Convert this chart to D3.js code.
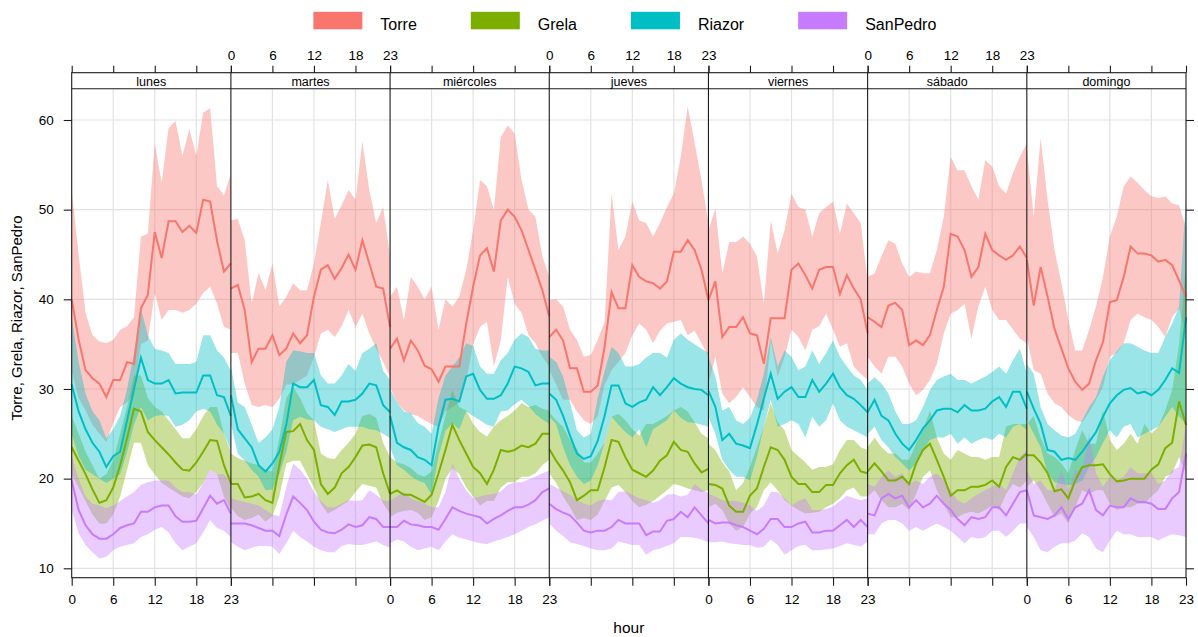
<!DOCTYPE html>
<html>
<head>
<meta charset="utf-8">
<script src="https://cdn.jsdelivr.net/npm/d3@7"></script>
<style>
  body { margin: 0; background: #fff; }
  text { font-family: "Liberation Sans", Arial, sans-serif; fill: #000; }
</style>
</head>
<body>
<svg id="chart" width="1198" height="637"></svg>
<script>
const days = ["lunes", "martes", "miércoles", "jueves", "viernes", "sábado", "domingo"];
const seriesNames = ["Torre", "Grela", "Riazor", "SanPedro"];
const seriesColors = ["#F8766D", "#7CAE00", "#00BFC4", "#C77CFF"];
const hourTicks = [0, 6, 12, 18, 23];
const hourGrid = [6, 12, 18];
const yTicks = [10, 20, 30, 40, 50, 60];

// one row of 24 hourly values per day
const torreMean = [
  [40,35.5,32.1,31.2,30.6,29.1,31,31,33,32.8,39,40.5,47.5,44.6,48.7,48.7,47.5,48.2,47.4,51.1,50.9,46.5,43.1,44],
  [41.2,41.6,38.8,33.0,34.5,34.5,36.0,33.8,34.5,36.2,35.1,36.0,40.3,43.3,43.8,42.3,43.5,45.0,43.3,46.6,44.0,41.4,41.2,36.9],
  [34.5,35.6,33.2,35.4,34.3,32.6,32.2,30.8,32.5,32.5,32.5,37.3,41.4,44.9,45.7,43.1,48.8,50.0,49.2,47.7,45.5,43.3,41.0,38.1],
  [35.8,36.6,35.4,32.3,32.3,29.7,29.7,30.4,34.7,40.8,39.0,39.0,43.8,42.5,42.0,41.8,41.2,42.0,45.3,45.3,46.6,45.5,43.3,39.9],
  [39.9,42.0,35.8,36.9,36.9,38.0,36.2,36.0,32.8,37.9,37.9,37.9,43.3,44.0,42.7,41.2,43.3,43.6,43.6,40.6,42.7,41.2,40.0,36.2],
  [38.0,37.5,36.9,39.3,39.6,38.8,34.9,35.4,34.9,36.0,38.8,41.4,47.3,47.0,45.5,42.5,43.6,47.3,45.5,44.9,44.4,44.9,45.9,44.6],
  [44.4,39.3,43.6,40.3,36.7,34.5,32.3,30.8,29.9,30.6,33.2,35.2,39.7,39.9,42.5,45.9,45.1,45.1,44.9,44.2,44.4,43.8,42.1,40.3]
];
const torreHi = [
  [52.2,45,38.5,36,35.3,35.1,35.5,36.6,37,38,47,47.3,57.4,53,59.1,59.9,56,59,56,60.8,61.3,52.6,51.6,54],
  [48.8,49,46.6,39.5,42.9,41,44,39.2,40.3,41.8,41,41,44,48.5,53.3,49,50.5,52.2,51.1,57.6,52.2,48.5,50.3,44.8],
  [40.3,41.4,37.7,42.5,41.4,40,41.4,36.6,40,39.2,40.3,43.3,47.7,53.3,52.6,50.0,58.1,59.4,58.5,53.3,50,49.2,44.8,42.5],
  [39.9,40,39.2,36.6,35.5,33.6,33.8,35.5,37.5,51.8,45.5,47,50.9,48.8,48.5,47.0,48.5,50.3,51.8,55.9,61.5,57.5,53.3,48.5],
  [47.7,50.1,42.9,46.4,46.4,47.0,46.2,44.8,39.5,48.8,45.1,47.7,51.8,50.3,50.0,47.0,49.6,50.3,50.9,47.3,50.7,49.6,48.5,42.1],
  [42.5,42.9,44.8,46.6,46.2,44.0,42.5,43.1,42.9,42.9,45.5,49.2,55.9,54.4,54.4,52.6,51.1,55.5,54.8,52.6,51.8,54.1,55.9,57.4],
  [57.0,49.2,58.0,51.1,45.5,41.8,37.7,34.3,34.3,36.6,39.2,42.5,47.0,49.2,52.6,53.7,53.0,52.2,51.5,51.3,51.5,50.7,50.5,48.0]
];
const torreLo = [
  [32,29,27.6,26,25,24.1,26.2,28,28.5,29.5,35,35.4,40.7,37.7,38.8,38.8,38.5,38.8,39.5,40.7,41.4,39.5,36.9,36.6],
  [34,34,30.6,28.2,28,28.2,28,28.9,30.5,30.5,31,31.5,33.6,36.2,36.6,35.8,37,38.8,36.9,38.4,36.2,34.5,33,31.4],
  [30.2,28.5,27.6,27.2,27,26.5,26.1,25.8,27.5,28,28.5,31,35,36.9,37.5,32.5,35.4,42.5,39.5,38.5,36,35.1,33.6,32.5],
  [32.1,30.5,28.8,28.8,27.5,26.5,26.1,27,30.5,32.1,33,34,36,37.3,36.6,35.1,36.5,37.3,37.5,37.7,36,36.5,35.1,33.6],
  [30.6,33.6,29.5,28.4,29.1,30.2,29.1,28.0,27.6,35.4,31.4,33.6,36.6,35.8,34.3,36.6,37.0,38.4,36.6,34.7,35.1,32.5,31.7,31.0],
  [33.6,32.5,31.7,33.6,33.6,32.5,30.6,29.3,29.9,31.0,32.8,36.2,38.4,38.8,39.5,35.6,39.2,41.4,38.8,37.7,37.7,36.6,35.6,35.1],
  [35.8,32.1,31.7,29.5,28.4,28.0,27.1,26.5,26.3,27.4,28.8,30.2,33.6,34.0,35.1,37.7,38.4,38.0,37.7,36.9,35.8,38.0,39.0,36.0]
];

const grelaMean = [
  [23.5,22,20.5,18.8,17.3,17.6,19,21.5,24.5,27.8,27.5,25.2,24.3,23.5,22.7,21.8,21,20.9,21.8,23,24.3,24.2,21.5,19.5],
  [19.4,19.4,17.9,18.0,18.3,17.6,17.3,21.5,25.2,25.3,26.1,24.3,23.2,19.4,18.3,19.0,20.6,21.3,22.4,23.7,23.8,23.5,20.6,18.3],
  [18.3,18.7,18.2,18.2,17.8,17.4,18.2,20.6,23.2,26.0,24.3,22.8,21.3,20.6,19.4,21.0,23.2,23.0,23.2,23.7,23.5,23.9,25.0,25.0],
  [23.3,22.0,20.9,19.6,17.6,18.1,18.7,18.7,21.3,24.3,24.1,22.4,21.0,20.6,20.2,20.9,22.0,22.6,24.1,23.2,23.0,21.7,20.7,21.1],
  [19.4,19.3,18.9,17.0,16.3,16.3,18.1,18.9,21.3,23.5,23.2,22.1,20.2,19.4,19.4,18.5,18.5,19.3,19.3,20.6,21.5,22.1,20.8,20.6],
  [20.8,21.7,20.8,19.8,19.8,20.2,19.4,21.7,23.2,23.9,22.1,20.2,18.1,18.7,18.7,19.1,19.1,19.3,19.8,19.1,21.3,22.4,22.1,22.8],
  [22.6,22.6,21.8,20.6,18.6,18.8,17.8,19.8,21.3,21.5,21.5,21.6,20.5,19.7,19.8,20.0,20.0,20.0,21.0,21.6,23.4,24.0,28.6,26.0]
];
const grelaHi = [
  [27,25,23,21.5,20,20.5,22,25,28,31.5,31.5,29,28,27.5,26.5,25.5,24.5,24.5,25.5,27,28,28,25,23],
  [22.8,22.3,22,21.7,21.5,21.0,20.8,24.5,29,30.2,29,27.3,26.5,22.8,22.3,22.2,23.2,24,25,27,27.2,26.8,24,22.4],
  [22.4,21.8,21.6,21.2,20.5,20.2,20.8,24.0,27.0,29.9,28.0,27.6,26.1,25.2,24.7,25.8,26.5,27,27.6,28.4,28,28.2,27.8,27.6],
  [27.4,26.5,25.8,24.3,23.3,21.8,21.8,22.8,24,26.9,27.2,26.5,25.5,24.8,26.1,26.1,26.5,27,27.6,28.0,27.5,26.3,25.0,24.5],
  [23.9,23.2,21.8,20.8,18.7,19.5,21.3,23.5,25.8,28.4,26.3,25.4,23.2,22.5,21.8,21.0,21.3,21.3,21.6,23.2,24.3,24.3,23.5,23.2],
  [23.5,24.6,23.5,22.8,22.8,22.1,22.1,23.9,25.4,27.6,24.6,22.8,22.1,23.2,22.8,22.4,22.4,22.1,22.4,22.4,25.8,26.1,26.1,26.1],
  [26.1,27.0,24.6,22.8,22.4,21.7,20.6,23.2,25.4,23.9,23.9,27.6,24.3,23.2,23.9,25.0,23.9,26.1,25.0,25.8,27.6,29.9,35.0,44.0]
];
const grelaLo = [
  [20.5,19,17.5,16,15,15,16,18,21,24,24,21.5,20.5,19.5,19,18.5,18,17.8,18.5,19.5,21,20.5,18,16.5],
  [16.8,15.8,15.4,15.6,16,15.2,15.8,18,21.7,22,22,20.5,19,17.2,16.1,16.5,17,17.5,18.5,19.4,19.2,19,17.2,16.1],
  [15.7,16.2,16.4,16.5,16.2,15.4,15.7,17.5,20.0,21.2,20.5,19.0,18.0,17.0,17.5,17.5,19.0,19.6,19.6,20.2,20.2,20.6,21.5,22.1],
  [20.6,19.5,18,16.8,15.4,15.6,15.4,16.0,17.5,19.0,19.3,18.5,17.5,16.8,17.1,17.5,18.1,18.7,19.4,19.2,18.9,18.7,18.5,18.7],
  [16.8,17.2,16.5,15.0,14.2,14.6,16.1,16.8,18.7,19.6,18.7,17.6,17.0,16.5,16.1,16.2,16.3,16.8,17.2,17.8,18.7,19.0,18.0,18.0],
  [18.0,18.7,17.6,16.8,16.8,17.2,16.5,18.3,20.2,20.9,18.7,17.2,15.7,15.7,16.1,16.3,16.1,16.5,17.0,16.5,18.3,19.4,19.0,19.8],
  [19.1,19.8,18.7,17.2,15.7,16.1,15.0,16.8,18.7,18.3,18.7,18.7,17.2,16.5,16.8,16.8,17.2,17.2,18.0,18.7,20.2,20.6,22.4,20.6]
];

const riazorMean = [
  [30.5,27.5,25.5,24,23,21.3,22.5,23,26.5,30,33.5,31,30.6,30.6,31,29.5,29.6,29.6,29.6,31.5,31.5,29.3,29.1,27],
  [29.3,25.5,24.5,23.5,21.5,20.8,21.7,23.0,26,30.6,30.2,30.2,31.0,28.2,28.0,27.1,28.6,28.6,28.8,29.5,30.6,30.4,28.2,27.4],
  [27.0,24.0,23.5,23.2,22.4,22.1,21.5,25.8,28.8,28.9,28.6,31.4,31.7,29.9,28.9,28.9,29.3,30.6,32.5,32.3,31.9,30.4,30.6,30.6],
  [29.5,28.8,27.0,24.8,22.8,22.2,22.5,24.2,27.0,30.4,30.4,28.4,28.0,28.5,28.8,30.2,29.3,30.2,31.2,30.6,30.2,30.0,29.9,29.3],
  [29.8,28.0,24.3,25.0,23.9,23.7,23.4,26.0,28.9,31.7,28.9,29.7,30.2,29.1,29.1,31.0,29.7,30.6,31.7,30.2,29.3,28.9,28.2,27.4],
  [27.4,28.8,27.0,26.5,25.0,23.9,23.2,24.3,25.6,26.5,27.6,27.8,27.8,27.4,28.2,27.6,27.6,27.8,28.6,29.1,28.0,29.7,29.7,27.8],
  [29.7,27.8,26.1,23.2,23.0,22.1,22.3,22.1,23.0,24.1,25.2,26.9,28.4,29.3,29.9,30.1,29.5,29.7,29.3,29.9,31.0,32.3,31.8,38.0]
];
const riazorHi = [
  [38,33,29.5,27.5,26.5,24.5,25.5,27,30,34,39,36,34.5,34.3,34,32.8,32.8,32.8,33,36,36,34.3,33.5,32],
  [32.5,28.5,28,26,24,24.6,25.5,28,33,34.3,34.2,34,34,31.5,30.6,30.6,31.5,32.8,32,34,34.5,35.1,32,31],
  [30,28.5,27.5,27.3,26.2,25.8,25,29,31.5,32.5,33.5,35.1,34.8,32.5,31.7,31.7,33.2,34,35.5,36.2,35.8,34.5,34.3,34.3],
  [33.6,33,31.4,28.5,25.4,24.6,25,29,32,34.7,34,32.5,32.5,32.8,33.5,34,34,33.5,35.5,36.2,35.5,35,34.5,34],
  [33.6,31.4,27.6,28.0,26.5,26.1,26.8,28.8,31.7,35.8,32.5,34.3,33.6,32.1,32.5,34.3,32.8,34.0,35.4,33.6,32.5,31.5,31.0,29.9],
  [30.6,31.3,30.6,29.5,27.5,26.1,26.1,26.5,28.0,29.9,31.0,31.4,31.7,31.0,31.0,30.6,31.0,31.4,31.9,32.5,31.7,33.2,34.5,31.7],
  [32.8,31.7,28.0,26.1,25.4,24.8,24.6,25.0,26.5,28.0,29.1,31.4,33.2,34.2,35.1,35.1,34.7,34.3,34.0,34.0,35.8,37.3,39.2,51.3]
];
const riazorLo = [
  [25,22.5,21,20.5,20,19.5,20,20.5,23,26,28,26.5,27,27.1,27,25.8,26,26.5,27.5,27.8,27.5,26,25,23.2],
  [26.1,22.8,22,21,20.2,18.7,18.8,20.5,23,26.5,26.9,26.6,26.5,25.8,25.5,25.2,25.5,25.8,25.8,25.8,25.5,25.4,25,24.5],
  [23.5,21.5,21,20.3,19.8,19.5,18.2,22.5,25.3,26.2,25.5,27.5,27,26.5,26,25.8,27.5,27.6,28.3,28.8,28.1,27.2,26.6,26.1],
  [26.9,26.1,23.5,21.5,20.2,19.4,19.8,21.5,24,26.9,26,25.2,24.6,25.5,23.5,25.5,26,26.5,27.6,26.8,26.3,26.2,26,25.8],
  [26.9,25.0,22.1,21.0,20.2,20.2,19.8,22.4,25.8,28.8,25.8,26.1,26.5,26.1,24.6,26.9,25.8,26.5,28.4,26.5,25.8,25.4,25.0,24.6],
  [25.0,25.8,24.3,23.5,22.4,21.7,20.9,21.7,23.2,24.3,24.6,24.6,25.0,23.9,24.6,23.9,24.3,24.6,24.3,25.0,24.6,25.8,26.1,25.4],
  [26.5,25.0,23.5,20.6,19.6,19.4,19.3,19.4,19.8,21.3,22.4,24.0,25.4,24.6,25.8,26.1,24.6,25.0,25.4,25.8,26.9,28.0,26.9,26.1]
];

const sanPedroMean = [
  [19.8,16.5,14.8,13.8,13.3,13.3,13.8,14.5,14.8,15.0,16.3,16.3,16.8,17.0,17.0,15.8,15.2,15.2,15.3,16.7,18.1,17.2,17.6,16.1],
  [15.0,15.0,15.0,14.8,14.5,14.2,14.2,13.6,16.0,18.0,17.3,16.5,15.2,14.3,14.0,13.9,14.3,14.9,14.6,14.8,15.7,15.5,14.6,14.6],
  [14.6,14.6,15.3,14.9,14.8,14.6,14.6,14.3,15.5,16.8,16.4,16.1,15.9,15.7,15.0,15.5,15.9,16.4,16.8,16.8,17.1,17.6,18.5,18.9],
  [17.2,16.6,16.2,15.9,15.1,14.2,14.0,14.2,14.2,14.6,15.4,15.0,15.0,15.0,13.7,14.1,14.1,15.3,15.5,16.3,15.7,16.8,15.9,15.0],
  [15.4,15.0,15.1,15.1,14.8,14.6,14.2,13.8,14.4,15.5,15.5,14.6,14.6,15.0,15.2,14.0,14.0,14.2,14.2,14.8,15.4,14.6,15.4,14.6],
  [16.1,15.9,17.8,18.3,17.8,18.1,16.8,17.6,16.8,17.2,18.1,17.2,16.5,15.5,14.8,15.7,15.5,15.7,16.8,16.8,15.9,17.2,18.5,18.7],
  [18.7,15.9,15.7,15.5,15.9,16.8,15.5,16.8,17.2,18.7,16.5,15.9,17.0,16.8,16.8,17.8,17.4,17.4,17.2,16.6,16.6,17.8,18.5,22.8]
];
const sanPedroHi = [
  [22.5,20,18,17.2,17,16.7,17,17.5,18,18.5,19.3,19.6,19.8,19.8,19.8,19,18.5,18.5,18.2,19.5,21,20.5,20.5,19.5],
  [17.8,17.6,17.4,17.2,17,16.5,16,15.8,19,21.7,21,20,18.5,17.5,16.8,16.8,17.2,17.6,17.5,17.6,18.7,18.2,17.6,17.5],
  [17.6,18.0,18.5,17.8,17.5,17.2,16.8,16.8,18.5,21.7,20,18.7,17.8,18,18.2,18.3,18.6,19.3,19.6,19.6,19.9,20.2,20.6,20.9],
  [19.4,19.0,18.6,18.2,17.6,17.2,17.0,17.5,17.7,17.6,18.5,18.6,18.2,17.8,17.6,17.3,17.6,18.2,18.3,18.0,18.2,19.4,18.8,18.4],
  [18.3,18.0,17.6,17.5,17.5,17.3,17.0,16.4,17.0,18.5,18.5,17.8,17.0,17.5,17.8,16.5,16.5,16.6,16.9,17.5,18.1,17.8,17.6,17.8],
  [19.4,19.1,20.2,20.9,20.2,20.6,19.4,19.8,19.4,20.2,20.6,19.8,18.7,17.6,17.2,17.8,18.3,18.7,19.1,19.4,18.7,20.6,22.4,23.2],
  [20.9,19.4,19.8,18.7,18.7,20.9,18.7,20.9,20.9,25.0,20.6,19.1,20.2,19.8,20.2,21.3,20.6,20.6,20.6,19.4,19.8,20.9,21.3,26.0]
];
const sanPedroLo = [
  [16.5,13.9,12.6,11.8,11.1,11.3,12,12.4,12.6,12.8,13.5,13.8,14.3,14.6,14,12.8,12.0,12.4,12.8,14.0,15.4,14.5,14.2,13.5],
  [12.9,12.4,12.0,12.3,12.5,12.5,12.4,11.6,12.8,14.2,13.5,13,12.4,12.0,11.8,11.8,12.5,12.7,12.6,12.6,12.8,13,12.6,12.3],
  [12.8,13.2,13.0,12.4,12.0,12.2,12.4,12.0,13.0,13.8,13.4,13.2,13.0,12.8,12.7,13.0,13.2,13.5,13.8,14.2,14.6,14.9,15.3,15.7],
  [15.0,14.2,13.6,12.9,12.7,12.5,12.2,12.0,12.0,12.2,13.0,12.8,12.6,12.6,11.5,12.0,12.2,12.5,12.8,13.5,13.5,13.4,13.2,12.9],
  [12.9,12.9,13.0,12.8,12.7,12.6,12.6,12.3,12.4,13.2,12.6,11.5,12.0,12.5,12.6,12.0,12.0,12.1,12.2,12.5,12.8,12.6,12.4,13.0],
  [13.8,13.8,15.0,15.4,15.4,15.0,14.2,14.6,14.2,14.6,15.0,14.6,14.2,13.5,12.8,13.5,13.3,13.5,14.2,14.2,13.5,14.2,15.0,15.0],
  [14.6,13.5,12.0,11.8,12.4,12.8,12.8,13.1,13.9,13.5,12.2,11.8,13.1,14.2,13.8,13.8,13.5,13.5,13.5,13.1,13.5,13.8,13.7,13.5]
];

const seriesTable = [
  { mean: torreMean, lo: torreLo, hi: torreHi },
  { mean: grelaMean, lo: grelaLo, hi: grelaHi },
  { mean: riazorMean, lo: riazorLo, hi: riazorHi },
  { mean: sanPedroMean, lo: sanPedroLo, hi: sanPedroHi }
].map((s, i) => ({ ...s, name: seriesNames[i], color: seriesColors[i] }));

const svg = d3.select("#chart");

const plotL = 71.7, plotR = 1186, plotT = 88.7, plotB = 577.7, stripT = 72.7;
const tickFont = "13.5px";

const panelScale = d3.scaleBand().domain(days).range([plotL, plotR]);
const pw = panelScale.bandwidth();
const y = d3.scaleLinear().domain([10, 60]).range([568.3, 120]);
const xFor = day => d3.scaleLinear().domain([0, 23]).range([panelScale(day), panelScale(day) + pw]);

// grid
const gridG = svg.append("g").attr("stroke", "#e2e2e2").attr("stroke-width", 1.2);
gridG.selectAll("line.h")
  .data(yTicks)
  .join("line")
  .attr("class", "h")
  .attr("x1", plotL).attr("x2", plotR)
  .attr("y1", d => y(d)).attr("y2", d => y(d));

days.forEach(day => {
  const x = xFor(day);
  gridG.append("g").selectAll("line")
    .data(hourGrid)
    .join("line")
    .attr("x1", d => x(d)).attr("x2", d => x(d))
    .attr("y1", plotT).attr("y2", plotB);
});

// bands, then lines
const bandsG = svg.append("g");
const linesG = svg.append("g");

days.forEach((day, di) => {
  const x = xFor(day);
  seriesTable.forEach(s => {
    const area = d3.area()
      .x((d, h) => x(h))
      .y0((d, h) => y(s.lo[di][h]))
      .y1((d, h) => y(s.hi[di][h]));
    bandsG.append("path")
      .datum(s.mean[di])
      .attr("d", area)
      .attr("fill", s.color)
      .attr("fill-opacity", 0.4);
  });
});

days.forEach((day, di) => {
  const x = xFor(day);
  seriesTable.forEach(s => {
    const line = d3.line().x((d, h) => x(h)).y(d => y(d));
    linesG.append("path")
      .datum(s.mean[di])
      .attr("d", line)
      .attr("fill", "none")
      .attr("stroke", s.color)
      .attr("stroke-width", 2);
  });
});

// frame, strips and panel dividers
const frameG = svg.append("g").attr("stroke", "#1a1a1a").attr("fill", "none").attr("stroke-width", 1.1);
frameG.append("rect")
  .attr("x", plotL).attr("y", stripT)
  .attr("width", plotR - plotL).attr("height", plotB - stripT);
frameG.append("line")
  .attr("x1", plotL).attr("x2", plotR)
  .attr("y1", plotT).attr("y2", plotT);
frameG.selectAll("line.div")
  .data(days.slice(1))
  .join("line")
  .attr("class", "div")
  .attr("x1", d => panelScale(d)).attr("x2", d => panelScale(d))
  .attr("y1", stripT).attr("y2", plotB);

svg.append("g").selectAll("text")
  .data(days)
  .join("text")
  .attr("x", d => panelScale(d) + pw / 2)
  .attr("y", 85.5)
  .attr("text-anchor", "middle")
  .style("font-size", "12.5px")
  .text(d => d);

// axes
function styleAxis(g) {
  g.select(".domain").remove();
  g.selectAll(".tick line").attr("stroke", "#1a1a1a").attr("stroke-width", 1.1);
  g.selectAll(".tick text")
    .style("font-size", tickFont)
    .style("font-family", '"Liberation Sans", Arial, sans-serif')
    .attr("fill", "#000");
}

days.forEach((day, di) => {
  const x = xFor(day);
  svg.append("g")
    .attr("transform", `translate(0, ${plotB})`)
    .call(d3.axisBottom(x).tickValues(hourTicks).tickSize(8).tickSizeOuter(0).tickPadding(9)
      .tickFormat(di % 2 === 0 ? d3.format("d") : () => ""))
    .call(styleAxis);

  svg.append("g")
    .attr("transform", `translate(0, ${stripT})`)
    .call(d3.axisTop(x).tickValues(hourTicks).tickSize(7).tickSizeOuter(0).tickPadding(6)
      .tickFormat(di % 2 === 1 ? d3.format("d") : () => ""))
    .call(styleAxis);
});

svg.append("g")
  .attr("transform", `translate(${plotL}, 0)`)
  .call(d3.axisLeft(y).tickValues(yTicks).tickSize(8).tickPadding(10))
  .call(styleAxis);

svg.append("g")
  .attr("transform", `translate(${plotR}, 0)`)
  .call(d3.axisRight(y).tickValues(yTicks).tickSize(8).tickFormat(() => ""))
  .call(styleAxis);

// axis titles
svg.append("text")
  .attr("x", (plotL + plotR) / 2)
  .attr("y", 633)
  .attr("text-anchor", "middle")
  .style("font-size", "15.5px")
  .text("hour");

svg.append("text")
  .attr("transform", "translate(22, 318) rotate(-90)")
  .attr("text-anchor", "middle")
  .style("font-size", "15px")
  .text(seriesNames.join(", "));

// legend
const legendG = svg.append("g");
const rectW = 49, rectH = 17.5, gapText = 18, gapItem = 54;
let lx = 0;
seriesTable.forEach(s => {
  const item = legendG.append("g").attr("transform", `translate(${lx}, 0)`);
  item.append("rect")
    .attr("x", 0).attr("y", 11.8)
    .attr("width", rectW).attr("height", rectH)
    .attr("fill", s.color);
  const t = item.append("text")
    .attr("x", rectW + gapText)
    .attr("y", 29.5)
    .style("font-size", "16px")
    .text(s.name);
  lx += rectW + gapText + t.node().getComputedTextLength() + gapItem;
});
const legendW = lx - gapItem;
legendG.attr("transform", `translate(${(plotL + plotR) / 2 - legendW / 2 - 4}, 0)`);
</script>
</body>
</html>
